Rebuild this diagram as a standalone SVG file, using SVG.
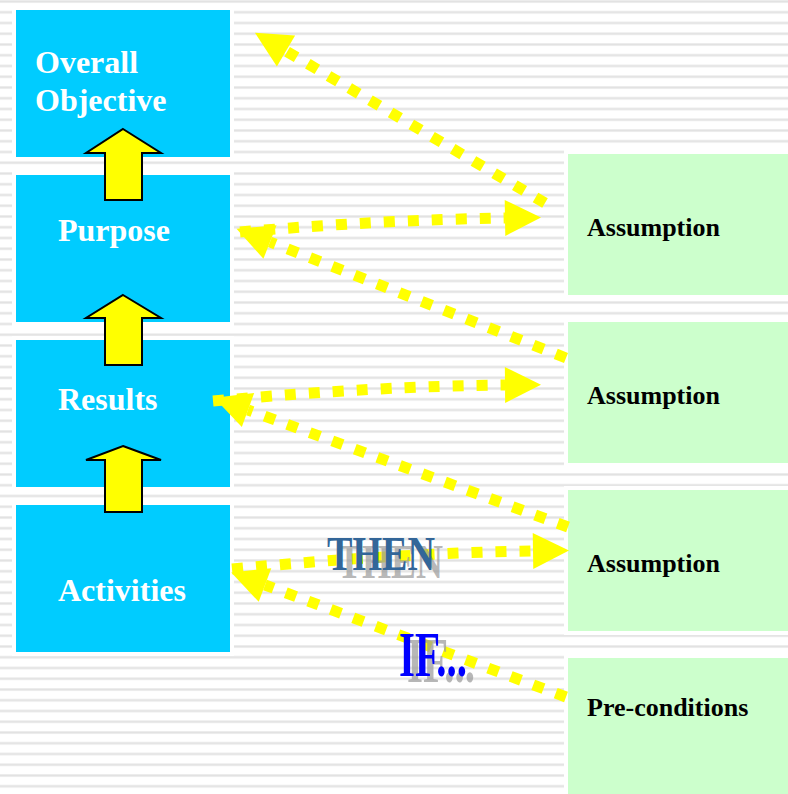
<svg xmlns="http://www.w3.org/2000/svg" width="788" height="794" viewBox="0 0 788 794">
<defs>
  <pattern id="stripes" patternUnits="userSpaceOnUse" x="0" y="0" width="20" height="10.75">
    <rect x="0" y="0" width="20" height="3" fill="#f1f1f1"/>
    <rect x="0" y="0.7" width="20" height="1.6" fill="#e2e2e2"/>
  </pattern>
  <marker id="head" markerUnits="userSpaceOnUse" markerWidth="40" markerHeight="40" refX="0" refY="18" orient="auto" overflow="visible">
    <path d="M0,0 L36,18 L0,36 Z" fill="#ffff00"/>
  </marker>
</defs>
<style>
  .blue{fill:#00ccff}
  .green{fill:#ccffcc}
  .mask{fill:#ffffff}
  .wt{font-family:"Liberation Serif","Times New Roman",serif;font-weight:bold;font-size:32px;fill:#ffffff}
  .bt{font-family:"Liberation Serif","Times New Roman",serif;font-weight:bold;font-size:26px;fill:#000000}
  .up{fill:#ffff00;stroke:#000000;stroke-width:2}
  .dot{fill:none;stroke:#ffff00;stroke-width:11;stroke-dasharray:11 13}
  .big{font-family:"Liberation Serif","Times New Roman",serif;font-weight:bold}
</style>
<rect x="0" y="0" width="788" height="794" fill="#ffffff"/>
<rect x="0" y="0" width="788" height="794" fill="url(#stripes)"/>

<g id="node-overall">
  <rect class="mask" x="12" y="6" width="222" height="155"/>
  <rect class="blue" x="16" y="10" width="214" height="147"/>
  <text class="wt" x="35" y="73">Overall</text>
  <text class="wt" x="35" y="111">Objective</text>
</g>
<g id="node-purpose">
  <rect class="mask" x="12" y="171" width="222" height="155"/>
  <rect class="blue" x="16" y="175" width="214" height="147"/>
  <text class="wt" x="58" y="241">Purpose</text>
</g>
<g id="node-results">
  <rect class="mask" x="12" y="336" width="222" height="155"/>
  <rect class="blue" x="16" y="340" width="214" height="147"/>
  <text class="wt" x="58" y="410">Results</text>
</g>
<g id="node-activities">
  <rect class="mask" x="12" y="501" width="222" height="155"/>
  <rect class="blue" x="16" y="505" width="214" height="147"/>
  <text class="wt" x="58" y="601">Activities</text>
</g>

<g id="node-assumption1">
  <rect class="mask" x="564" y="150" width="230" height="149"/>
  <rect class="green" x="568" y="154" width="220" height="141"/>
  <text class="bt" x="587" y="236">Assumption</text>
</g>
<g id="node-assumption2">
  <rect class="mask" x="564" y="318" width="230" height="149"/>
  <rect class="green" x="568" y="322" width="220" height="141"/>
  <text class="bt" x="587" y="404">Assumption</text>
</g>
<g id="node-assumption3">
  <rect class="mask" x="564" y="486" width="230" height="149"/>
  <rect class="green" x="568" y="490" width="220" height="141"/>
  <text class="bt" x="587" y="572">Assumption</text>
</g>
<g id="node-preconditions">
  <rect class="mask" x="564" y="654" width="230" height="150"/>
  <rect class="green" x="568" y="658" width="220" height="140"/>
  <text class="bt" x="587" y="716">Pre-conditions</text>
</g>

<g id="up-arrows">
  <path class="up" d="M123,129 L161,153 L142,153 L142,200 L105,200 L105,153 L86,153 Z"/>
  <path class="up" d="M123,295 L161,318 L142,318 L142,365 L105,365 L105,318 L86,318 Z"/>
  <path class="up" d="M123,446 L161,460 L142,460 L142,512 L105,512 L105,460 L86,460 Z"/>
</g>

<g id="connectors">
  <path class="dot" d="M545,203 L286,51" marker-end="url(#head)"/>
  <path class="dot" d="M240,232 Q380,220 505,218" marker-end="url(#head)"/>
  <path class="dot" d="M566,358 L270,242" marker-end="url(#head)"/>
  <path class="dot" d="M213,401 Q380,386 505,385" marker-end="url(#head)"/>
  <path class="dot" d="M568,527 L248,410" marker-end="url(#head)"/>
  <path class="dot" d="M232,569 Q400,553 533,551" marker-end="url(#head)"/>
  <path class="dot" d="M566,697 L265,585" marker-end="url(#head)"/>
</g>

<g id="label-then">
  <text class="big" x="337" y="578" font-size="49" fill="#999999" fill-opacity="0.7" textLength="106" lengthAdjust="spacingAndGlyphs">THEN</text>
  <text class="big" x="327" y="570" font-size="49" fill="#336699" textLength="108" lengthAdjust="spacingAndGlyphs">THEN</text>
</g>
<g id="label-if">
  <text class="big" x="407" y="682" font-size="64" fill="#999999" fill-opacity="0.7" textLength="68" lengthAdjust="spacingAndGlyphs">IF...</text>
  <text class="big" x="399" y="676" font-size="64" fill="#0000ff" textLength="68" lengthAdjust="spacingAndGlyphs">IF...</text>
</g>
</svg>
